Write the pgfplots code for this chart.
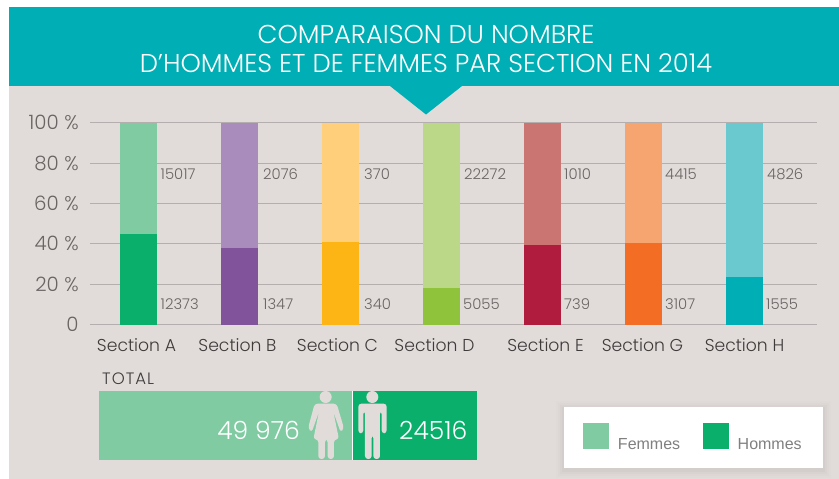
\documentclass[border=0pt]{standalone}
\usepackage{fontspec}
\usepackage{pgfplots}
\usepackage{pgfplotstable}
\pgfplotsset{compat=1.18}
\setmainfont{Poppins Light}
\newfontfamily\legfont{Liberation Sans}
\newfontfamily\totalfont[LetterSpace=6]{Poppins Light}
\definecolor{banner}{HTML}{00AFB5}
\definecolor{bg}{HTML}{E1DCDA}
\definecolor{gridc}{HTML}{B4AFAE}
\definecolor{tickc}{HTML}{6A6564}
\definecolor{secc}{HTML}{3F3B3B}
\definecolor{fa}{HTML}{80CBA1}\definecolor{ha}{HTML}{09AF6A}
\definecolor{fb}{HTML}{A98BBC}\definecolor{hb}{HTML}{81539B}
\definecolor{fc}{HTML}{FFCF7B}\definecolor{hc}{HTML}{FDB515}
\definecolor{fd}{HTML}{BBD788}\definecolor{hd}{HTML}{8FC33B}
\definecolor{fe}{HTML}{CB7573}\definecolor{he}{HTML}{B01C3D}
\definecolor{fg}{HTML}{F7A570}\definecolor{hg}{HTML}{F36E24}
\definecolor{fh}{HTML}{6AC9CF}\definecolor{hh}{HTML}{00AEB5}
\pgfplotstableread{
x ha fa hb fb hc fc hd fd he fe hg fg hh fh
0 45.0 55.0 0 0 0 0 0 0 0 0 0 0 0 0
1 0 0 37.9 62.1 0 0 0 0 0 0 0 0 0 0
2 0 0 0 0 41.0 59.0 0 0 0 0 0 0 0 0
3 0 0 0 0 0 0 18.1 81.9 0 0 0 0 0 0
4 0 0 0 0 0 0 0 0 39.4 60.6 0 0 0 0
5 0 0 0 0 0 0 0 0 0 0 40.5 59.5 0 0
6 0 0 0 0 0 0 0 0 0 0 0 0 23.5 76.5
}\sharetable
\pgfplotstableread{
x y label
0.218 74.3 15017
1.233 74.3 2076
2.233 74.3 370
3.223 74.3 22272
4.213 74.3 1010
5.213 74.3 4415
6.223 74.3 4826
0.218 10.3 12373
1.233 10.3 1347
2.233 10.3 340
3.213 10.3 5055
4.213 10.3 739
5.213 10.3 3107
6.213 10.3 1555
}\labeltable
\pgfplotsset{
  panel/.style={
    scale only axis, width=727pt, height=201.8pt,
    xmin=-0.4802, xmax=6.7178, ymin=0, ymax=100,
    at={(90pt,-324.5pt)}, anchor=south west,
  }
}
\newcommand{\sect}[1]{\addplot[fill=#1, draw=none] table[x=x,y=#1] {\sharetable};}
\begin{document}
\begin{tikzpicture}
\path[use as bounding box] (0pt,0pt) rectangle (839pt,-479pt);
\begin{scope}[x=1pt,y=-1pt]
\fill[white] (0,0) rectangle (839,479);
\fill[bg] (9,7) rectangle (839,479);
\fill[banner] (9,7) rectangle (839,86);
\fill[banner] (390,86) -- (462,86) -- (426,114.5) -- cycle;
\node[white,font=\fontsize{25.8}{29}\selectfont,align=center] at (426,48.5)
  {COMPARAISON DU NOMBRE\\D’HOMMES ET DE FEMMES PAR SECTION EN 2014};
\end{scope}

\begin{axis}[panel,
  ybar stacked, bar width=37pt, bar shift=0pt,
  axis x line=bottom, axis y line=left,
  axis line style={draw=none}, major tick style={draw=none},
  ymajorgrids, grid style={gridc, line width=1pt},
  ytick={0,20,40,60,80,100},
  yticklabels={0,20 \%,40 \%,60 \%,80 \%,100 \%},
  yticklabel style={font=\fontsize{19.8}{19.8}\selectfont, text=tickc, anchor=east, inner sep=0pt, xshift=-9pt},
  xtick={-0.02,0.98,1.97,2.93,4.03,4.99,6.0},
  xticklabels={Section A,Section B,Section C,Section D,Section E,Section G,Section H},
  xticklabel style={font=\fontsize{17.2}{17}\selectfont, text=secc, inner sep=0pt, yshift=-11.5pt},
]
\sect{ha}\sect{fa}\sect{hb}\sect{fb}\sect{hc}\sect{fc}\sect{hd}\sect{fd}
\sect{he}\sect{fe}\sect{hg}\sect{fg}\sect{hh}\sect{fh}
\end{axis}

\begin{axis}[panel, hide axis]
\addplot[draw=none, mark=none, nodes near coords, point meta=explicit symbolic,
  nodes near coords style={anchor=west, inner sep=0pt, text=tickc, font=\fontsize{14.8}{15}\selectfont}]
  table[x=x,y=y,meta=label] {\labeltable};
\end{axis}

\begin{scope}[x=1pt,y=-1pt]
\node[anchor=west,text=secc,font=\totalfont\fontsize{16.5}{17}\selectfont,inner sep=0pt] at (102,379) {TOTAL};
% legend card
\foreach \d/\o in {8/0.008,6/0.01,4/0.015,2/0.02}{
  \fill[black,opacity=\o] (564-\d,407-\d+2) rectangle (823+\d,468+\d+2);
}
\fill[white] (564,407) rectangle (823,468);
\end{scope}

\begin{axis}[
  scale only axis, width=378pt, height=69pt,
  at={(99pt,-460pt)}, anchor=south west,
  xbar stacked, bar width=69pt, bar shift=0pt,
  xmin=0, xmax=74492, ymin=-0.5, ymax=0.5,
  hide axis,
  legend columns=2,
  legend style={draw=none, fill=none, at={(1.2817,0.10)}, anchor=south west,
    inner sep=0pt, outer sep=0pt,
    font=\legfont\fontsize{16}{16}\selectfont, text=gray,
    /tikz/every even column/.append style={column sep=21pt}},
  legend cell align=left,
  legend image code/.code={\fill[#1] (0pt,-4pt) rectangle (26pt,22pt);\path (32.5pt,0pt);},
]
\addplot[fill=fa, draw=none] coordinates {(49976,0)};
\addplot[fill=ha, draw=none] coordinates {(24516,0)};
\legend{Femmes,Hommes}
\end{axis}

\begin{scope}[x=1pt,y=-1pt]
\draw[white,line width=0.9pt] (352.7,391) -- (352.7,460);
\node[white,anchor=east,inner sep=0pt,font=\fontsize{25}{25}\selectfont] at (300,430) {49 976};
\node[white,anchor=west,inner sep=0pt,font=\fontsize{25}{25}\selectfont] at (399,430) {24516};
\end{scope}

% pictograms
\begin{scope}[shift={(300pt,-385pt)},x=0.3333pt,y=-0.3333pt]
 \fill[bg] (77,36) circle (6pt);
 \fill[bg,rounded corners=3pt] (44,56) -- (110,56) -- (132,130) -- (122,142) -- (100,80) -- (117,163) -- (102,163) -- (102,222) -- (83,222) -- (83,163) -- (75,163) -- (75,222) -- (55,222) -- (55,163) -- (40,163) -- (57,80) -- (35,142) -- (24,130) -- cycle;
 \fill[bg] (217,36) circle (6pt);
 \fill[bg,rounded corners=3pt] (175,56) -- (260,56) -- (260,145) -- (245,145) -- (245,78) -- (240,78) -- (240,222) -- (220,222) -- (220,150) -- (215,150) -- (215,222) -- (195,222) -- (195,78) -- (190,78) -- (190,145) -- (175,145) -- cycle;
\end{scope}
\end{tikzpicture}
\end{document}
